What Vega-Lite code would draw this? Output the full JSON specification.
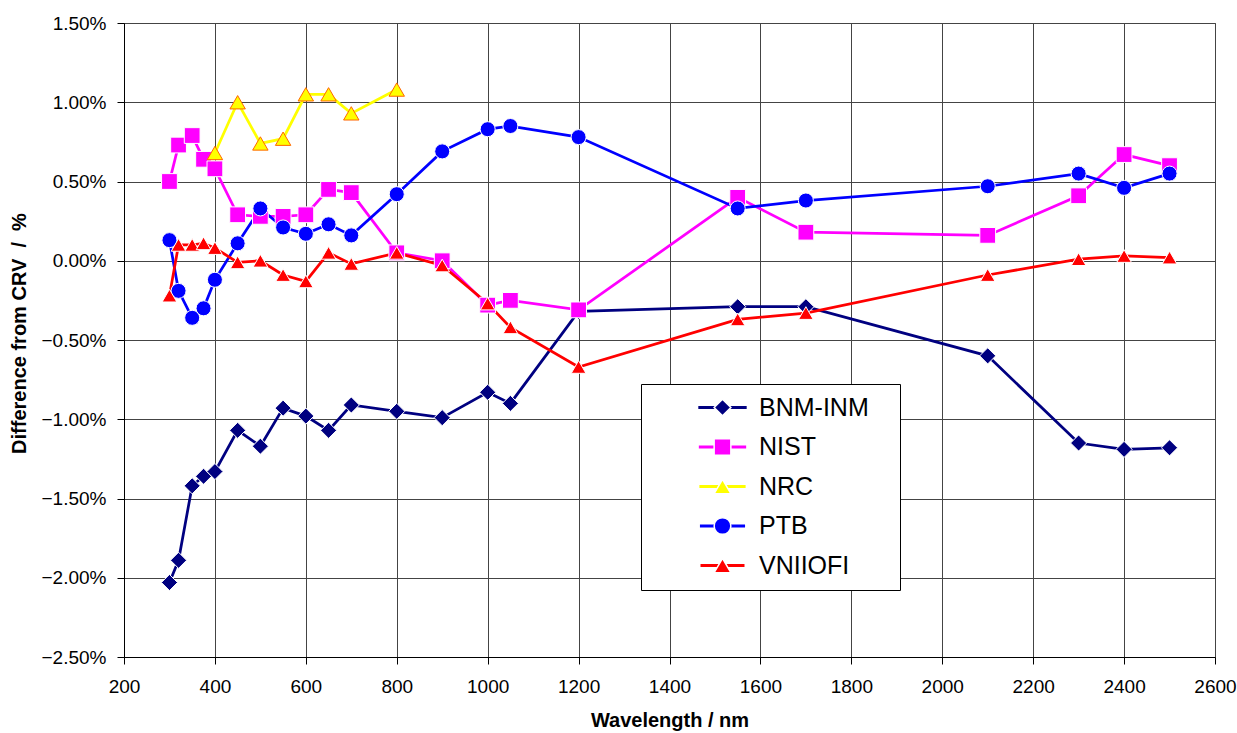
{
  "$schema": "https://vega.github.io/schema/vega-lite/v6.json",
  "width": 1091,
  "height": 634,
  "autosize": {"type": "none"},
  "padding": {"left": 124, "top": 23, "right": 22, "bottom": 76},
  "background": "white",
  "config": {
    "font": "Liberation Sans",
    "view": {"stroke": "#555555", "strokeWidth": 1},
    "axis": {
      "labelFont": "Liberation Sans",
      "labelFontSize": 19,
      "labelColor": "black",
      "titleFont": "Liberation Sans",
      "titleFontSize": 20,
      "titleFontWeight": "bold",
      "titleColor": "black",
      "domainColor": "black",
      "domainWidth": 1,
      "tickColor": "black",
      "tickSize": 7,
      "tickWidth": 1,
      "gridColor": "#444444",
      "gridWidth": 1,
      "gridOpacity": 1
    }
  },
  "data": {
    "values": [
      {"series": "BNM-INM", "wl": 300, "v": -2.03},
      {"series": "BNM-INM", "wl": 320, "v": -1.89},
      {"series": "BNM-INM", "wl": 350, "v": -1.42},
      {"series": "BNM-INM", "wl": 375, "v": -1.36},
      {"series": "BNM-INM", "wl": 400, "v": -1.33},
      {"series": "BNM-INM", "wl": 450, "v": -1.07},
      {"series": "BNM-INM", "wl": 500, "v": -1.17},
      {"series": "BNM-INM", "wl": 550, "v": -0.93},
      {"series": "BNM-INM", "wl": 600, "v": -0.98},
      {"series": "BNM-INM", "wl": 650, "v": -1.07},
      {"series": "BNM-INM", "wl": 700, "v": -0.91},
      {"series": "BNM-INM", "wl": 800, "v": -0.95},
      {"series": "BNM-INM", "wl": 900, "v": -0.99},
      {"series": "BNM-INM", "wl": 1000, "v": -0.83},
      {"series": "BNM-INM", "wl": 1050, "v": -0.90},
      {"series": "BNM-INM", "wl": 1200, "v": -0.32},
      {"series": "BNM-INM", "wl": 1550, "v": -0.29},
      {"series": "BNM-INM", "wl": 1700, "v": -0.29},
      {"series": "BNM-INM", "wl": 2100, "v": -0.60},
      {"series": "BNM-INM", "wl": 2300, "v": -1.15},
      {"series": "BNM-INM", "wl": 2400, "v": -1.19},
      {"series": "BNM-INM", "wl": 2500, "v": -1.18},
      {"series": "NIST", "wl": 300, "v": 0.50},
      {"series": "NIST", "wl": 320, "v": 0.73},
      {"series": "NIST", "wl": 350, "v": 0.79},
      {"series": "NIST", "wl": 375, "v": 0.64},
      {"series": "NIST", "wl": 400, "v": 0.58},
      {"series": "NIST", "wl": 450, "v": 0.29},
      {"series": "NIST", "wl": 500, "v": 0.28},
      {"series": "NIST", "wl": 550, "v": 0.28},
      {"series": "NIST", "wl": 600, "v": 0.29},
      {"series": "NIST", "wl": 650, "v": 0.45},
      {"series": "NIST", "wl": 700, "v": 0.43},
      {"series": "NIST", "wl": 800, "v": 0.05},
      {"series": "NIST", "wl": 900, "v": 0.00},
      {"series": "NIST", "wl": 1000, "v": -0.28},
      {"series": "NIST", "wl": 1050, "v": -0.25},
      {"series": "NIST", "wl": 1200, "v": -0.31},
      {"series": "NIST", "wl": 1550, "v": 0.40},
      {"series": "NIST", "wl": 1700, "v": 0.18},
      {"series": "NIST", "wl": 2100, "v": 0.16},
      {"series": "NIST", "wl": 2300, "v": 0.41},
      {"series": "NIST", "wl": 2400, "v": 0.67},
      {"series": "NIST", "wl": 2500, "v": 0.60},
      {"series": "NRC", "wl": 400, "v": 0.68},
      {"series": "NRC", "wl": 450, "v": 1.00},
      {"series": "NRC", "wl": 500, "v": 0.74},
      {"series": "NRC", "wl": 550, "v": 0.77},
      {"series": "NRC", "wl": 600, "v": 1.05},
      {"series": "NRC", "wl": 650, "v": 1.05},
      {"series": "NRC", "wl": 700, "v": 0.93},
      {"series": "NRC", "wl": 800, "v": 1.08},
      {"series": "PTB", "wl": 300, "v": 0.13},
      {"series": "PTB", "wl": 320, "v": -0.19},
      {"series": "PTB", "wl": 350, "v": -0.36},
      {"series": "PTB", "wl": 375, "v": -0.30},
      {"series": "PTB", "wl": 400, "v": -0.12},
      {"series": "PTB", "wl": 450, "v": 0.11},
      {"series": "PTB", "wl": 500, "v": 0.33},
      {"series": "PTB", "wl": 550, "v": 0.21},
      {"series": "PTB", "wl": 600, "v": 0.17},
      {"series": "PTB", "wl": 650, "v": 0.23},
      {"series": "PTB", "wl": 700, "v": 0.16},
      {"series": "PTB", "wl": 800, "v": 0.42},
      {"series": "PTB", "wl": 900, "v": 0.69},
      {"series": "PTB", "wl": 1000, "v": 0.83},
      {"series": "PTB", "wl": 1050, "v": 0.85},
      {"series": "PTB", "wl": 1200, "v": 0.78},
      {"series": "PTB", "wl": 1550, "v": 0.33},
      {"series": "PTB", "wl": 1700, "v": 0.38},
      {"series": "PTB", "wl": 2100, "v": 0.47},
      {"series": "PTB", "wl": 2300, "v": 0.55},
      {"series": "PTB", "wl": 2400, "v": 0.46},
      {"series": "PTB", "wl": 2500, "v": 0.55},
      {"series": "VNIIOFI", "wl": 300, "v": -0.22},
      {"series": "VNIIOFI", "wl": 320, "v": 0.10},
      {"series": "VNIIOFI", "wl": 350, "v": 0.10},
      {"series": "VNIIOFI", "wl": 375, "v": 0.11},
      {"series": "VNIIOFI", "wl": 400, "v": 0.08},
      {"series": "VNIIOFI", "wl": 450, "v": -0.01},
      {"series": "VNIIOFI", "wl": 500, "v": 0.00},
      {"series": "VNIIOFI", "wl": 550, "v": -0.09},
      {"series": "VNIIOFI", "wl": 600, "v": -0.13},
      {"series": "VNIIOFI", "wl": 650, "v": 0.05},
      {"series": "VNIIOFI", "wl": 700, "v": -0.02},
      {"series": "VNIIOFI", "wl": 800, "v": 0.05},
      {"series": "VNIIOFI", "wl": 900, "v": -0.03},
      {"series": "VNIIOFI", "wl": 1000, "v": -0.27},
      {"series": "VNIIOFI", "wl": 1050, "v": -0.42},
      {"series": "VNIIOFI", "wl": 1200, "v": -0.67},
      {"series": "VNIIOFI", "wl": 1550, "v": -0.37},
      {"series": "VNIIOFI", "wl": 1700, "v": -0.33},
      {"series": "VNIIOFI", "wl": 2100, "v": -0.09},
      {"series": "VNIIOFI", "wl": 2300, "v": 0.01},
      {"series": "VNIIOFI", "wl": 2400, "v": 0.03},
      {"series": "VNIIOFI", "wl": 2500, "v": 0.02}
    ]
  },
  "encoding": {
    "x": {
      "field": "wl",
      "type": "quantitative",
      "scale": {"domain": [200, 2600], "nice": false, "zero": false},
      "axis": {
        "title": "Wavelength / nm",
        "values": [200, 400, 600, 800, 1000, 1200, 1400, 1600, 1800, 2000, 2200, 2400, 2600],
        "format": "d",
        "labelPadding": 13,
        "titlePadding": 14,
        "labelFlush": false,
        "labelOverlap": false,
        "grid": true
      }
    },
    "y": {
      "field": "v",
      "type": "quantitative",
      "scale": {"domain": [-2.5, 1.5], "nice": false, "zero": false},
      "axis": {
        "title": "Difference from CRV\u00a0 /\u00a0 %",
        "values": [-2.5, -2, -1.5, -1, -0.5, 0, 0.5, 1, 1.5],
        "labelExpr": "format(datum.value, '.2f') + '%'",
        "labelPadding": 11,
        "titlePadding": 12,
        "titleY": 310,
        "labelFlush": false,
        "labelOverlap": false,
        "grid": true
      }
    }
  },
  "layer": [
    {
      "mark": {"type": "line", "strokeWidth": 2.75},
      "encoding": {
        "color": {
          "field": "series",
          "type": "nominal",
          "scale": {
            "domain": ["BNM-INM", "NIST", "NRC", "PTB", "VNIIOFI"],
            "range": ["#000080", "#FF00FF", "#FFFF00", "#0000FF", "#FF0000"]
          },
          "legend": {
            "orient": "none",
            "legendX": 517,
            "legendY": 361,
            "title": "I",
            "titleOrient": "right",
            "titleFontSize": 25,
            "titleColor": "transparent",
            "titlePadding": 13,
            "padding": 11,
            "rowPadding": 13.5,
            "symbolType": "M-3,0H3",
            "symbolSize": 400,
            "symbolStrokeWidth": 3,
            "symbolOffset": 58,
            "labelOffset": 24,
            "labelFont": "Liberation Sans",
            "labelFontSize": 25,
            "labelColor": "black",
            "labelLimit": 400,
            "strokeColor": "black",
            "fillColor": "white"
          }
        }
      }
    },
    {
      "mark": {"type": "point", "filled": true, "strokeWidth": 1, "opacity": 1},
      "encoding": {
        "fill": {
          "field": "series",
          "type": "nominal",
          "scale": {"range": ["#000080", "#FF00FF", "#FFFF00", "#0000FF", "#FF0000"]},
          "legend": {
            "orient": "none",
            "legendX": 517,
            "legendY": 361,
            "title": null,
            "padding": 11,
            "rowPadding": 13.5,
            "symbolSize": 280,
            "symbolStrokeWidth": 1.5,
            "symbolOffset": 58,
            "labelOffset": 24,
            "labelFont": "Liberation Sans",
            "labelFontSize": 25,
            "labelColor": "transparent",
            "labelLimit": 400,
            "encode": {"symbols": {"update": {"stroke": {"signal": "datum.value === 'NRC' ? '#FF6600' : 'transparent'"}, "size": {"signal": "datum.value === 'NIST' || datum.value === 'PTB' ? 210 : 290"}, "opacity": {"value": 1}}}}
          }
        },
        "shape": {
          "field": "series",
          "type": "nominal",
          "scale": {"range": ["diamond", "square", "triangle-up", "circle", "triangle-up"]},
          "legend": {
            "orient": "none",
            "legendX": 517,
            "legendY": 361,
            "title": null,
            "padding": 11,
            "rowPadding": 13.5,
            "symbolSize": 280,
            "symbolStrokeWidth": 1.5,
            "symbolOffset": 58,
            "labelOffset": 24,
            "labelFont": "Liberation Sans",
            "labelFontSize": 25,
            "labelColor": "transparent",
            "labelLimit": 400,
            "encode": {"symbols": {"update": {"stroke": {"signal": "datum.value === 'NRC' ? '#FF6600' : 'transparent'"}, "size": {"signal": "datum.value === 'NIST' || datum.value === 'PTB' ? 210 : 290"}, "opacity": {"value": 1}}}}
          }
        },
        "size": {
          "field": "series",
          "type": "nominal",
          "scale": {"domain": ["BNM-INM", "NIST", "NRC", "PTB", "VNIIOFI"], "range": [260, 215, 270, 200, 280]},
          "legend": null
        },
        "stroke": {
          "condition": {"test": "datum.series === 'NRC'", "value": "#FF6600"},
          "value": "white"
        }
      }
    }
  ]
}
